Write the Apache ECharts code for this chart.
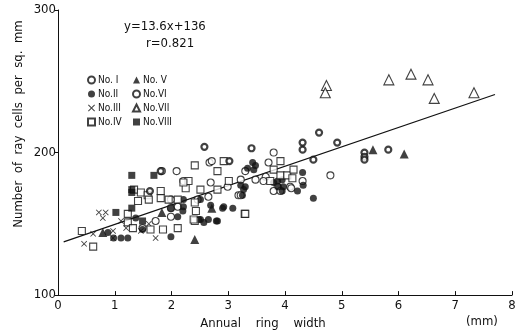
<!DOCTYPE html>
<html>
<head>
<meta charset="utf-8">
<script src="https://cdn.jsdelivr.net/npm/echarts@6/dist/echarts.min.js"></script>
<style>
  html, body { margin: 0; padding: 0; background: #fff; }
  #chart { width: 530px; height: 335px; }
</style>
</head>
<body>
<div id="chart"></div>
<script>
const FONT = "'Liberation Sans Narrow', 'DejaVu Sans Condensed', sans-serif";
const INK = '#111';

// [annual ring width (mm), ray cells per sq. mm]
const no1 = [[2.09,187],[2.67,193],[1.72,152],[1.99,161],[1.49,147],[2.71,194],[1.83,187],[2.21,180],
  [2.69,179],[1.99,167],[2.11,162],[2.46,167],[2.65,169],[3.18,170],[1.99,155],[2.99,176],[3.22,181],
  [3.80,200],[3.71,193],[3.66,183],[3.62,180],[3.87,176],[3.80,173],[3.92,173],[4.09,176],[4.31,180],
  [4.80,184],[4.11,175],[3.22,170],[3.30,187],[3.48,181]];
const no2 = [[2.21,162],[2.21,167],[2.51,167],[2.51,153],[2.65,153],[2.81,152],[2.90,161],[3.08,161],
  [2.69,163],[2.20,159],[1.99,161],[1.11,140],[1.23,140],[0.98,140],[1.49,146],[1.37,154],[2.11,155],
  [2.48,153],[3.30,176],[3.27,174],[3.22,177],[3.87,180],[3.95,181],[3.88,176],[3.97,176],[3.95,173],
  [4.32,177],[4.31,186],[4.22,173],[4.50,168],[3.43,193],[3.34,189],[3.45,188],[3.48,191],[3.80,179],
  [3.25,170],[2.79,152],[2.57,151],[2.92,162],[1.99,141],[0.88,144]];
const no3 = [[0.72,158],[0.84,158],[0.79,154],[0.46,136],[0.62,143],[0.97,140],[0.97,145],[1.72,140],
  [1.20,147],[1.46,145],[1.11,152],[1.60,150]];
const no4 = [[0.42,145],[0.62,134],[1.34,174],[1.46,172],[1.58,170],[1.60,167],[1.81,168],[1.81,173],
  [1.95,167],[2.11,167],[2.25,175],[2.30,180],[2.41,191],[2.43,159],[1.23,157],[1.23,151],[1.32,147],
  [1.63,146],[1.85,146],[2.11,147],[2.41,152],[2.41,165],[1.41,166],[2.92,194],[2.81,187],[3.01,180],
  [2.21,179],[2.51,174],[2.81,174],[2.39,153],[3.29,157],[3.92,194],[3.80,188],[3.92,184],[4.04,184],
  [4.13,182],[3.30,157],[3.74,180],[4.15,188]];
const no5 = [[5.55,202],[6.10,199],[2.41,139],[1.83,158],[2.71,161],[0.79,144]];
const no6 = [[4.60,214],[4.92,207],[4.31,207],[4.31,202],[3.41,203],[4.50,195],[5.82,202],[5.40,200],
  [5.40,197],[5.40,195],[2.58,204],[3.02,194],[1.81,187],[1.62,173]];
const no7 = [[4.73,247],[4.71,242],[5.83,251],[6.22,255],[6.52,251],[6.63,238],[7.33,242]];
const no8 = [[1.30,184],[1.30,174],[1.30,172],[1.69,184],[1.02,158],[1.30,161],[1.49,152]];

const xTicks = [0, 1, 2, 3, 4, 5, 6, 7, 8];
const yTicks = [100, 200, 300];
const fitSlope = 13.6, fitIntercept = 136;
const fitX = [0.1, 7.7];

const CROSS = 'path://M0,1L1,0L5,4L9,0L10,1L6,5L10,9L9,10L5,6L1,10L0,9L4,5Z';

const chart = echarts.init(document.getElementById('chart'), null, { renderer: 'canvas' });

const open = { color: '#fff', borderColor: INK, borderWidth: 1.1 };
const solid = { color: INK, borderColor: INK, borderWidth: 0 };

function sc(name, data, symbol, style, size) {
  return { name, type: 'scatter', data, symbol, symbolSize: size || 7, itemStyle: style, z: 3 };
}

chart.setOption({
  animation: false,
  backgroundColor: '#fff',
  textStyle: { fontFamily: FONT, color: INK },
  grid: { left: 58, right: 18, top: 10, bottom: 39 },
  xAxis: {
    type: 'value', min: 0, max: 8, interval: 1,
    name: 'Annual    ring    width', nameLocation: 'middle', nameGap: 14,
    nameTextStyle: { fontFamily: FONT, fontSize: 13, color: INK, padding: [0, 44, 0, 0] },
    axisLine: { lineStyle: { color: INK, width: 1 } },
    axisTick: { inside: true, length: 4, lineStyle: { color: INK } },
    axisLabel: { fontFamily: FONT, fontSize: 13, color: INK, margin: 4,
      formatter: v => xTicks.includes(v) ? String(v) : '' },
    splitLine: { show: false }
  },
  yAxis: {
    type: 'value', min: 100, max: 300, interval: 100,
    axisLine: { lineStyle: { color: INK, width: 1 } },
    axisTick: { length: 3, lineStyle: { color: INK } },
    axisLabel: { fontFamily: FONT, fontSize: 13, color: INK, margin: 2,
      formatter: v => yTicks.includes(v) ? String(v) : '' },
    splitLine: { show: false }
  },
  legend: [
    { data: ['No. I', 'No.II', 'No.III', 'No.IV'], orient: 'vertical', left: 82, top: 70,
      itemWidth: 7, itemHeight: 7, itemGap: 4,
      textStyle: { fontFamily: FONT, fontSize: 10, color: INK, padding: [0, 0, 0, -2] } },
    { data: ['No. V', 'No.VI', 'No.VII', 'No.VIII'], orient: 'vertical', left: 127, top: 70,
      itemWidth: 7, itemHeight: 7, itemGap: 4,
      textStyle: { fontFamily: FONT, fontSize: 10, color: INK, padding: [0, 0, 0, -2] } }
  ],
  graphic: [
    { type: 'text', x: 19, y: 124, rotation: Math.PI / 2,
      style: { text: 'Number  of  ray  cells  per  sq.  mm', font: '13px ' + FONT, fill: INK,
        align: 'center', verticalAlign: 'middle' } },
    { type: 'text', left: 124, top: 20, style: { text: 'y=13.6x+136', font: '13px ' + FONT, fill: INK } },
    { type: 'text', left: 146, top: 37, style: { text: 'r=0.821', font: '13px ' + FONT, fill: INK } },
    { type: 'text', left: 466, top: 315, style: { text: '(mm)', font: '13px ' + FONT, fill: INK } }
  ],
  series: [
    {
      name: 'fit', type: 'line', data: fitX.map(x => [x, fitSlope * x + fitIntercept]),
      symbol: 'none', lineStyle: { color: INK, width: 1.2 }, z: 2, silent: true
    },
    sc('No. I', no1, 'circle', open),
    sc('No.II', no2, 'circle', solid),
    sc('No.III', no3, CROSS, solid, 6),
    sc('No.IV', no4, 'rect', open),
    sc('No. V', no5, 'triangle', solid, 9),
    sc('No.VI', no6, 'circle', { color: '#fff', borderColor: INK, borderWidth: 2.2 }, 6),
    sc('No.VII', no7, 'triangle', open, 10),
    sc('No.VIII', no8, 'rect', solid)
  ]
});
</script>
</body>
</html>
